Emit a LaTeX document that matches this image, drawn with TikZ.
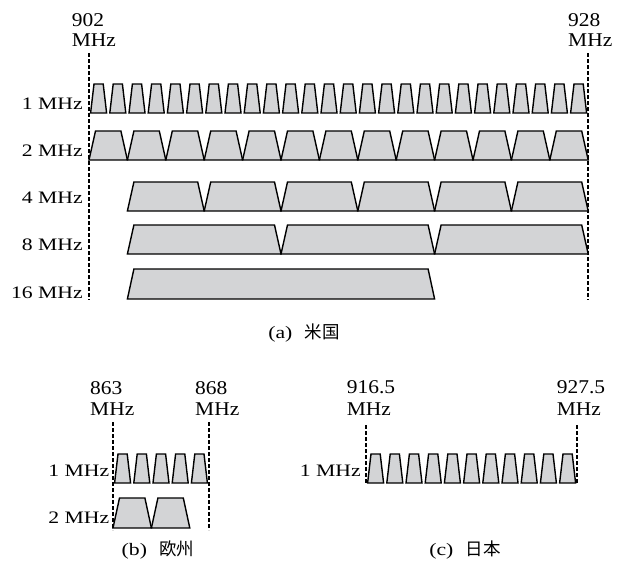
\documentclass[tikz,border=0pt]{standalone}
\usepackage{fontspec}
\setmainfont{Liberation Serif}
\newfontfamily\cjk{Noto Sans CJK JP}
\definecolor{chfill}{RGB}{211,212,214}
\newcommand{\strA}[1]{\scalebox{1.1}[1]{#1}}
\newcommand{\strB}[1]{\scalebox{1.24}[1]{#1}}
\tikzset{
  ch/.style={draw=black, fill=chfill, line width=1.4pt, line join=miter},
  guide/.style={line width=1.6pt, dash pattern=on 3.5pt off 2.5pt},
  freq/.style={anchor=base west, inner sep=0pt, font=\fontsize{19.5}{20}\selectfont},
  rowlab/.style={anchor=base east, inner sep=0pt, font=\fontsize{17.5}{20}\selectfont},
  captext/.style={anchor=base, inner sep=0pt, font=\fontsize{17.5}{20}\selectfont}
}
% narrow 1 MHz channels: x0, count, top, bottom
\newcommand{\narrowrow}[4]{%
  \foreach \i in {1,...,#2}{%
    \path[ch] ({#1+19.2*(\i-1)+1.6},#4) -- ({#1+19.2*(\i-1)+5},#3) -- ({#1+19.2*(\i-1)+14.2},#3) -- ({#1+19.2*(\i-1)+17.6},#4) -- cycle;
  }}
% wide channels: x0, width, count, top, bottom
\newcommand{\widerow}[5]{%
  \foreach \i in {1,...,#3}{%
    \path[ch] ({#1+#2*(\i-1)},#5) -- ({#1+#2*(\i-1)+6.5},#4) -- ({#1+#2*\i-6.5},#4) -- ({#1+#2*\i},#5) -- cycle;
  }}
\begin{document}
\begin{tikzpicture}[x=1pt,y=-1pt]
\useasboundingbox (0,0) rectangle (626,565);

% ---------- (a) USA ----------
\coordinate (ua1) at (89,53);  \coordinate (ua2) at (89,300);
\coordinate (ub1) at (588,53); \coordinate (ub2) at (588,300);
\draw[guide] (ua1) -- (ua2);
\draw[guide] (ub1) -- (ub2);

\node[freq] (f902) at (71.7,26.7) {\strA{902}};
\node[freq] (f902u) at (71.7,46.7) {\strA{MHz}};
\node[freq] (f928) at (568,26.7) {\strA{928}};
\node[freq] (f928u) at (568,46.7) {\strA{MHz}};

\node[rowlab] (u1) at (83,109) {\strB{1 MHz}};
\node[rowlab] (u2) at (83,156.7) {\strB{2 MHz}};
\node[rowlab] (u4) at (83,203.3) {\strB{4 MHz}};
\node[rowlab] (u8) at (83,250) {\strB{8 MHz}};
\node[rowlab] (u16) at (83,298) {\strB{16 MHz}};

\narrowrow{89}{26}{84}{113}
\widerow{89}{38.4}{13}{131}{160}
\widerow{127.4}{76.8}{6}{182}{211}
\widerow{127.4}{153.6}{3}{225}{254}
\widerow{127.4}{307.2}{1}{269}{299}

\node[captext] (capa) at (304,338) {\strB{(a)}\hspace{0.7em}{\cjk 米国}};

% ---------- (b) Europe ----------
\coordinate (ea1) at (113,422); \coordinate (ea2) at (113,530);
\coordinate (eb1) at (209,422); \coordinate (eb2) at (209,530);
\draw[guide] (ea1) -- (ea2);
\draw[guide] (eb1) -- (eb2);

\node[freq] (f863) at (90,394) {\strA{863}};
\node[freq] (f863u) at (90,415) {\strA{MHz}};
\node[freq] (f868) at (195,394) {\strA{868}};
\node[freq] (f868u) at (195,415) {\strA{MHz}};

\node[rowlab] (e1) at (109.5,476.7) {\strB{1 MHz}};
\node[rowlab] (e2) at (109.5,523.5) {\strB{2 MHz}};

\narrowrow{113}{5}{454}{483}
\widerow{113}{38.4}{2}{498}{528}

\node[captext] (capb) at (158,555) {\strB{(b)}\hspace{0.7em}{\cjk 欧州}};

% ---------- (c) Japan ----------
\coordinate (ja1) at (366,425); \coordinate (ja2) at (366,483);
\coordinate (jb1) at (577,425); \coordinate (jb2) at (577,483);
\draw[guide] (ja1) -- (ja2);
\draw[guide] (jb1) -- (jb2);

\node[freq] (f9165) at (346.7,393.5) {\strA{916.5}};
\node[freq] (f9165u) at (346.7,415) {\strA{MHz}};
\node[freq] (f9275) at (556.7,393.5) {\strA{927.5}};
\node[freq] (f9275u) at (556.7,415) {\strA{MHz}};

\node[rowlab] (j1) at (361,476.7) {\strB{1 MHz}};

\narrowrow{366}{11}{454}{483}

\node[captext] (capc) at (465,555) {\strB{(c)}\hspace{0.7em}{\cjk 日本}};
\end{tikzpicture}
\end{document}
